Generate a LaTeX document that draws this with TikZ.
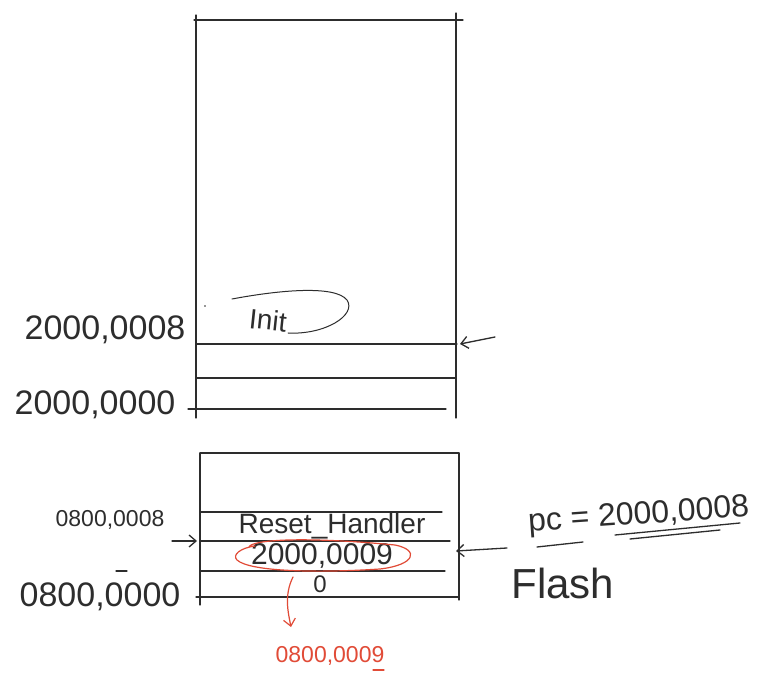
\documentclass[tikz,border=0pt]{standalone}
\usepackage{fontspec}
\setmainfont{Liberation Sans}
\usetikzlibrary{arrows.meta}
\definecolor{ink}{RGB}{45,45,45}
\definecolor{redink}{RGB}{225,75,55}
\tikzset{
  pen/.style={draw=ink, line width=1.3pt, line cap=round},
  redpen/.style={draw=redink, line width=1.2pt, line cap=round},
  lbl/.style={text=ink, inner sep=0pt, font=\fontsize{#1}{#1}\selectfont},
  redlbl/.style={text=redink, inner sep=0pt, font=\fontsize{#1}{#1}\selectfont},
  tip/.style={-{Straight Barb[length=7pt,width=12pt]}}
}
\begin{document}
\begin{tikzpicture}[x=1pt,y=-1pt]
\useasboundingbox[fill=white] (0,0) rectangle (780,676);

% ---------- top memory block (SRAM) ----------
\draw[pen] (194,20) -- (463,20);
\draw[pen] (196,15) -- (196,418);
\draw[pen] (456,13) -- (456,418);
\draw[pen] (196,344) -- (457,344);
\draw[pen] (196,378) -- (456,378);
\draw[pen] (188,409) -- (446,409);

\node[lbl=34] (a8) at (105,330) {2000,0008};
\node[lbl=34] (a0) at (95,405) {2000,0000};

% scribbled "Init" circled
\node[lbl=28, rotate=-6] (init) at (268,320) {Init};
\draw[pen, line width=1pt] (232,299) .. controls (280,290) and (335,285) .. (347,300)
  .. controls (357,315) and (325,335) .. (288,333);
\fill[ink] (205,306) circle (0.9pt);

\coordinate (r8a) at (495,337);
\coordinate (r8b) at (460,344);
\draw[pen, tip] (r8a) -- (r8b);

% ---------- bottom memory block (Flash) ----------
\draw[pen] (200,453) -- (459,453);
\draw[pen] (200,453) -- (200,605);
\draw[pen] (459,453) -- (459,600);
\draw[pen] (200,512) -- (442,512);
\draw[pen] (200,541) -- (450,541);
\draw[pen] (200,571) -- (445,571);
\draw[pen] (196,597) -- (459,597);
\draw[pen] (116,571) -- (127,571);

\node[lbl=28] (rh) at (332,526) {Reset\_Handler};
\node[lbl=30] (v9) at (322,556) {2000,0009};
\node[lbl=24] (z) at (320,584) {0};
\draw[redpen] (v9.north west) ++(-2,4) .. controls (250,540) and (300,536) .. (395,545)
  .. controls (420,550) and (415,565) .. (380,569)
  .. controls (320,573) and (250,572) .. (237,560)
  .. controls (232,555) and (240,548) .. (255,546);

\node[lbl=23] (f8) at (110,520) {0800,0008};
\node[lbl=34] (f0) at (100,597) {0800,0000};
\coordinate (f8a) at (172,541);
\coordinate (f8b) at (197,541);
\draw[pen, tip] (f8a) -- (f8b);

\node[lbl=32, anchor=west, rotate=4] (pc) at (528,524) {pc = 2000,0008};
\draw[pen] (537,547) -- (583,542);
\draw[pen] (615,535) -- (740,523);
\draw[pen] (630,539) -- (720,530);
\coordinate (pca) at (507,548);
\coordinate (pcb) at (456,551);
\draw[pen, tip] (pca) -- (pcb);
\node[lbl=42] (fl) at (563,583) {Flash};

% red pointer to 0800,0009
\coordinate (ra) at (293,577);
\coordinate (rb) at (291,627);
\draw[redpen, tip] (ra) .. controls (284,595) and (288,612) .. (rb);
\node[redlbl=23] (r9) at (330,656) {0800,0009};
\draw[redpen] (373,670) -- (384,670);

\end{tikzpicture}
\end{document}
